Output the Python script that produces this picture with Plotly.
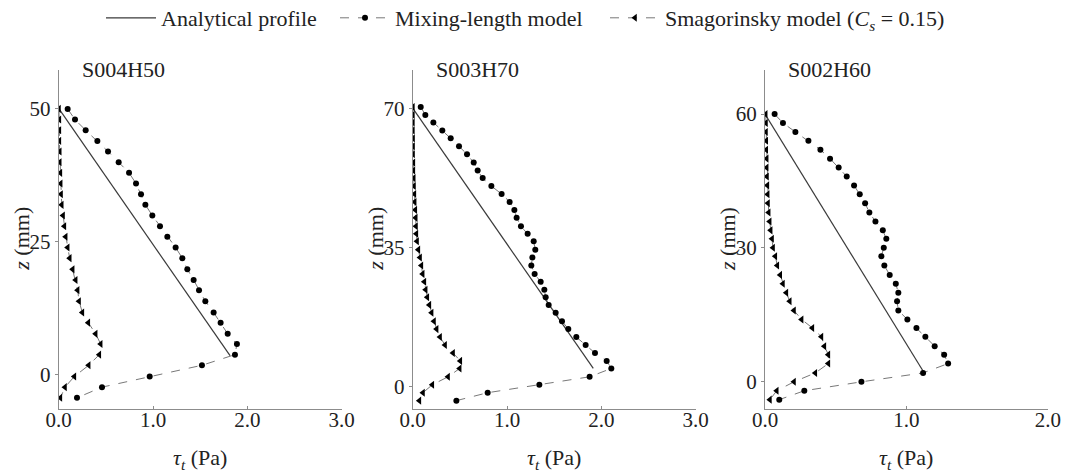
import plotly.graph_objects as go

# ---------------- data ----------------
panel_titles = ["S004H50", "S003H70", "S002H60"]

# Panel 1: S004H50
z1 = [49.9, 47.9, 45.9, 43.9, 41.9, 39.9, 37.9, 35.9, 33.9, 31.9, 29.9, 27.9, 25.9, 23.9,
      21.9, 19.8, 17.8, 15.9, 13.8, 11.7, 9.8, 7.7, 5.8, 3.8, 1.8, -0.3, -2.3, -4.3]
mix1 = [0.095, 0.173, 0.286, 0.410, 0.523, 0.636, 0.746, 0.820, 0.873, 0.919, 0.993, 1.074,
        1.152, 1.240, 1.311, 1.364, 1.431, 1.488, 1.555, 1.643, 1.717, 1.792, 1.890, 1.869,
        1.519, 0.965, 0.459, 0.194]
smag1 = [0.003, 0.007, 0.007, 0.007, 0.011, 0.011, 0.018, 0.021, 0.025, 0.032, 0.046, 0.060,
         0.074, 0.095, 0.117, 0.148, 0.180, 0.201, 0.216, 0.251, 0.314, 0.392, 0.445, 0.431,
         0.318, 0.166, 0.067, 0.018]
ana1_tau = [0.0, 1.817]
ana1_z = [50.0, 3.6]

# Panel 2: S003H70
z2 = [70.3, 68.3, 66.4, 64.4, 62.4, 60.4, 58.4, 56.3, 54.3, 52.4, 50.4, 48.4, 46.4, 44.4,
      42.4, 40.3, 38.4, 36.5, 34.4, 32.4, 30.4, 28.3, 26.3, 24.3, 22.4, 20.5, 18.5, 16.4,
      14.4, 12.4, 10.4, 8.4, 6.4, 4.5, 2.4, 0.4, -1.6, -3.6]
mix2 = [0.085, 0.134, 0.219, 0.314, 0.403, 0.491, 0.576, 0.647, 0.689, 0.742, 0.834, 0.943,
        1.028, 1.078, 1.102, 1.148, 1.219, 1.283, 1.300, 1.269, 1.258, 1.293, 1.357, 1.396,
        1.410, 1.442, 1.516, 1.583, 1.650, 1.735, 1.834, 1.933, 2.057, 2.106, 1.876, 1.343,
        0.795, 0.463]
smag2 = [0.002, 0.002, 0.002, 0.002, 0.004, 0.004, 0.004, 0.007, 0.007, 0.011, 0.014, 0.018,
         0.021, 0.028, 0.032, 0.035, 0.039, 0.046, 0.060, 0.078, 0.092, 0.106, 0.124, 0.138,
         0.155, 0.177, 0.201, 0.226, 0.254, 0.290, 0.343, 0.428, 0.505, 0.498, 0.375, 0.208,
         0.109, 0.071]
ana2_tau = [0.0, 1.915]
ana2_z = [70.0, 4.5]

# Panel 3: S002H60
z3 = [60.0, 58.0, 56.0, 54.0, 52.0, 50.0, 48.0, 46.0, 44.0, 42.0, 40.0, 37.9, 35.9, 33.9,
      32.0, 30.0, 28.1, 26.0, 23.9, 21.9, 19.9, 18.0, 15.9, 13.9, 12.0, 10.0, 7.9, 6.0, 4.0,
      1.9, -0.1, -2.1, -4.1]
mix3 = [0.068, 0.127, 0.215, 0.307, 0.392, 0.460, 0.521, 0.578, 0.630, 0.670, 0.708, 0.738,
        0.781, 0.833, 0.858, 0.840, 0.823, 0.844, 0.882, 0.925, 0.943, 0.934, 0.943, 1.007,
        1.071, 1.134, 1.200, 1.267, 1.295, 1.118, 0.682, 0.278, 0.101]
smag3 = [0.005, 0.007, 0.007, 0.009, 0.009, 0.012, 0.012, 0.014, 0.017, 0.019, 0.021, 0.026,
         0.033, 0.040, 0.050, 0.057, 0.073, 0.087, 0.108, 0.127, 0.151, 0.175, 0.205, 0.259,
         0.335, 0.399, 0.420, 0.448, 0.448, 0.356, 0.205, 0.083, 0.035]
ana3_tau = [0.0, 1.122]
ana3_z = [60.0, 2.1]

x_ticks = [[0, 1, 2, 3], [0, 1, 2, 3], [0, 1, 2]]
x_ticktext = [["0.0", "1.0", "2.0", "3.0"], ["0.0", "1.0", "2.0", "3.0"], ["0.0", "1.0", "2.0"]]
y_ticks = [[0, 25, 50], [0, 35, 70], [0, 30, 60]]
x_ranges = [[0, 3], [0, 3], [0, 2]]
y_ranges = [[-6.4, 57.2], [-5.7, 79.6], [-6.2, 69.9]]

legend_names = ["Analytical profile", "Mixing-length model",
                "Smagorinsky model (<i>C</i><sub><i>s</i></sub> = 0.15)"]

# ---------------- figure ----------------
W, H = 1066, 476
FONT = "Liberation Serif"
x_px = [(58.7, 341.6), (412.7, 695.6), (765.0, 1047.8)]
y_px = (70.0, 409.0)
ydom = [1 - y_px[1] / H, 1 - y_px[0] / H]
legend_left_px = [101, 335, 605]
legend_ids = ["legend", "legend2", "legend3"]

panels = [
    (ana1_tau, ana1_z, mix1, smag1, z1),
    (ana2_tau, ana2_z, mix2, smag2, z2),
    (ana3_tau, ana3_z, mix3, smag3, z3),
]

fig = go.Figure()
line_col = "#3a3a3a"
for i, (at, az, mx, sm, zz) in enumerate(panels):
    xa = "x" if i == 0 else f"x{i+1}"
    ya = "y" if i == 0 else f"y{i+1}"
    show = i == 0
    fig.add_trace(go.Scatter(x=at, y=az, mode="lines", xaxis=xa, yaxis=ya,
                             line=dict(color=line_col, width=1.2),
                             name=legend_names[0], showlegend=show, legend=legend_ids[0]))
    fig.add_trace(go.Scatter(x=mx, y=zz, mode="lines+markers", xaxis=xa, yaxis=ya,
                             line=dict(color="#555555", width=0.8, dash="dash"),
                             marker=dict(symbol="circle", size=6, color="black"),
                             name=legend_names[1], showlegend=show, legend=legend_ids[1]))
    fig.add_trace(go.Scatter(x=sm, y=zz, mode="lines+markers", xaxis=xa, yaxis=ya,
                             line=dict(color="#555555", width=0.8, dash="dash"),
                             marker=dict(symbol="triangle-left", size=7, color="black"),
                             name=legend_names[2], showlegend=show, legend=legend_ids[2]))

axis_common = dict(showgrid=False, zeroline=False, showline=True, linecolor="#8c8c8c",
                   linewidth=1.2, tickfont=dict(family=FONT, size=21, color="#222222"),
                   tickcolor="#8c8c8c", ticklen=3, tickwidth=1, automargin=False)
layout = dict(
    template="none",
    width=W, height=H, margin=dict(l=0, r=0, t=0, b=0, pad=0, autoexpand=False),
    paper_bgcolor="white", plot_bgcolor="white",
    font=dict(family=FONT, size=21, color="#222222"),
    showlegend=True,
)
for k, lid in enumerate(legend_ids):
    layout[lid] = dict(orientation="h", x=legend_left_px[k] / W, xanchor="left",
                       y=1 - 18 / H, yanchor="middle", itemwidth=50,
                       font=dict(family=FONT, size=22, color="#222222"),
                       bgcolor="rgba(0,0,0,0)", borderwidth=0)
annotations = []
for i in range(3):
    sx = "" if i == 0 else str(i + 1)
    xd = [x_px[i][0] / W, x_px[i][1] / W]
    layout["xaxis" + sx] = dict(axis_common, domain=xd, range=x_ranges[i],
                                anchor="y" + sx, tickvals=x_ticks[i],
                                ticktext=x_ticktext[i], ticks="inside",
                                ticklabelstandoff=-8)
    layout["yaxis" + sx] = dict(axis_common, domain=ydom, range=y_ranges[i],
                                anchor="x" + sx, tickvals=y_ticks[i], ticks="outside")
    # panel title
    annotations.append(dict(text=panel_titles[i], xref="paper", yref="paper",
                            x=(x_px[i][0] + 21) / W, y=1 - 69 / H, xanchor="left",
                            yanchor="middle", showarrow=False,
                            font=dict(family=FONT, size=22, color="#222222")))
    # y title
    annotations.append(dict(text="<i>z</i> (mm)", xref="paper", yref="paper",
                            x=(x_px[i][0] - 38) / W, y=1 - 239 / H, textangle=-90,
                            xanchor="center", yanchor="middle", showarrow=False,
                            font=dict(family=FONT, size=22, color="#222222")))
    # x title
    annotations.append(dict(text="<i>τ</i><sub><i>t</i></sub> (Pa)", xref="paper",
                            yref="paper", x=(x_px[i][0] + x_px[i][1]) / 2 / W,
                            y=1 - 459 / H, xanchor="center", yanchor="middle",
                            showarrow=False,
                            font=dict(family=FONT, size=22, color="#222222")))
layout["annotations"] = annotations
fig.update_layout(**layout)

fig.write_html("out.html", config={"displayModeBar": False},
               post_script="document.body.style.margin='0';document.body.style.overflow='hidden';")
